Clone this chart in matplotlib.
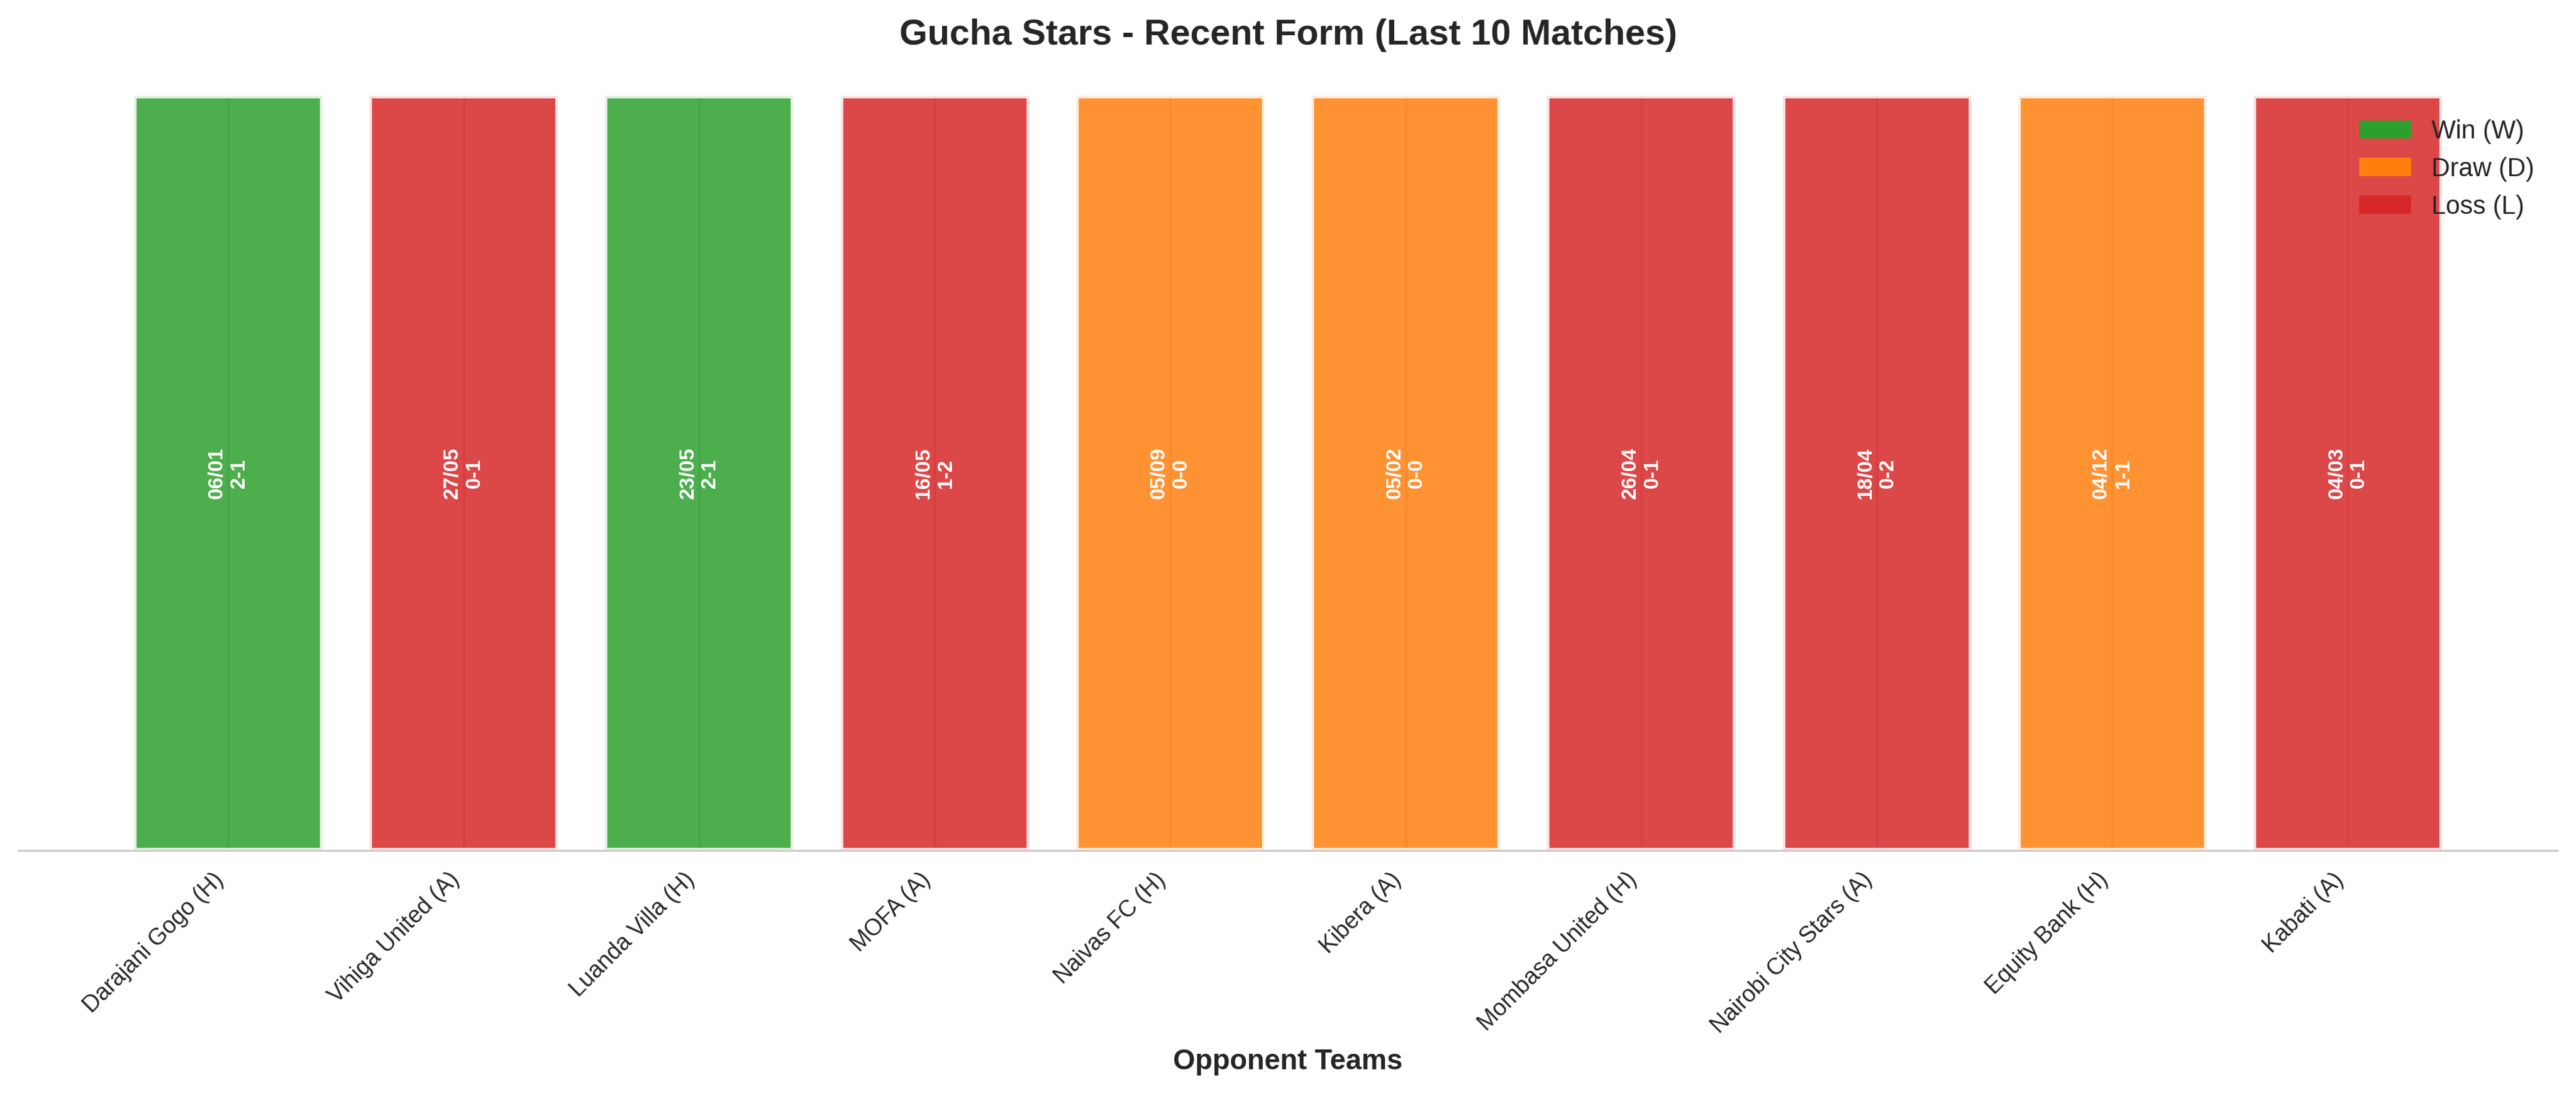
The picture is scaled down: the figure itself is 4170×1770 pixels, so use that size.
import matplotlib
matplotlib.use("Agg")
import matplotlib.pyplot as plt
from matplotlib.patches import Patch
import seaborn as sns

opponents = ["Darajani Gogo (H)", "Vihiga United (A)", "Luanda Villa (H)", "MOFA (A)",
             "Naivas FC (H)", "Kibera (A)", "Mombasa United (H)", "Nairobi City Stars (A)",
             "Equity Bank (H)", "Kabati (A)"]
results = ["W", "L", "W", "L", "D", "D", "L", "L", "D", "L"]
dates = ["06/01", "27/05", "23/05", "16/05", "05/09", "05/02", "26/04", "18/04", "04/12", "04/03"]
scores = ["2-1", "0-1", "2-1", "1-2", "0-0", "0-0", "0-1", "0-2", "1-1", "0-1"]

colors = {"W": "#2ca02c", "D": "#ff7f0e", "L": "#d62728"}
legend_labels = {"W": "Win (W)", "D": "Draw (D)", "L": "Loss (L)"}

sns.set_style("whitegrid")
plt.rcParams["font.family"] = ["Liberation Sans", "DejaVu Sans"]

fig, ax = plt.subplots(figsize=(14, 6), dpi=300)

x = list(range(len(opponents)))
bars = ax.bar(x, [1] * len(opponents), color=[colors[r] for r in results],
              alpha=0.85, edgecolor="white", linewidth=2, width=0.8)

for xi, d, s in zip(x, dates, scores):
    ax.text(xi, 0.5, f"{d}\n{s}", rotation=90, ha="center", va="center",
            color="white", fontweight="bold", fontsize=8)

ax.set_ylim(0, 1)
ax.set_yticks([])
ax.set_xticks(x)
ax.set_xticklabels(opponents, rotation=45, ha="right", fontsize=9)
ax.set_xlabel("Opponent Teams", fontsize=11, fontweight="bold")
ax.set_title("Gucha Stars - Recent Form (Last 10 Matches)", fontsize=14,
             fontweight="bold", pad=20)

handles = [Patch(facecolor=colors[k], edgecolor="none", label=legend_labels[k])
           for k in ["W", "D", "L"]]
ax.legend(handles=handles, loc="upper right", frameon=False, fontsize=10)

sns.despine(left=True)
plt.tight_layout()
plt.savefig("out.png", dpi=300, bbox_inches="tight")
